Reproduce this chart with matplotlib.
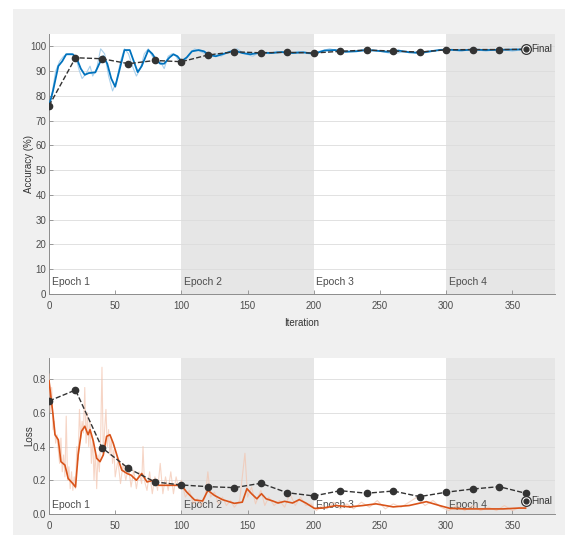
import matplotlib.pyplot as plt
import matplotlib.patches as mpatches
import numpy as np

# ---- data ----
acc_smooth_it = [0, 3, 7, 10, 13, 18, 21, 24, 27, 30, 35, 38, 41, 44, 47, 50, 53, 57, 61, 64, 67, 70,
                 75, 78, 81, 84, 87, 91, 94, 97, 100, 104, 108, 113, 117, 121, 126, 132, 140, 146, 152,
                 160, 168, 176, 184, 192, 200, 208, 216, 224, 232, 240, 248, 256, 264, 272, 280, 288,
                 296, 304, 312, 320, 330, 340, 350, 360]
acc_smooth = [76, 82, 92, 94, 96.8, 96.8, 95, 91, 88.5, 89.2, 89.5, 93, 96, 93, 87, 83.7, 90, 98.5, 98.5,
              94, 89.6, 92, 98.5, 97, 94.5, 93, 93, 95.5, 96.8, 96, 94, 95.5, 98, 98.5, 98, 96.5, 96,
              97, 98.3, 97.3, 96.8, 97.5, 97.3, 97.7, 97.3, 97.6, 97, 98.3, 98.5, 97.8, 98, 98.5, 98.2,
              97.8, 98.3, 97.6, 97.4, 98, 98.6, 98.6, 98.4, 98.7, 98.5, 98.6, 98.7, 98.8]

acc_raw_it = [0, 2, 5, 8, 11, 14, 17, 20, 23, 25, 28, 31, 33, 36, 39, 42, 45, 48, 51, 54, 57, 60, 63, 66,
              69, 72, 75, 78, 81, 84, 87, 90, 93, 96, 99, 102, 106, 110, 114, 118, 122, 126, 130, 136,
              142, 148, 154, 160, 166, 172, 180, 188, 196, 204, 212, 220, 230, 240, 250, 260, 270, 280,
              290, 300, 310, 320, 330, 340, 350, 360]
acc_raw = [76, 80, 90, 94, 96, 97, 97, 96, 90, 87, 89, 92, 88, 91, 99, 97, 88, 82, 86, 94, 99, 97, 92, 88,
           91, 97, 99, 96, 93, 94, 91, 96, 97, 96, 93, 94, 97, 99, 98, 97, 96, 97, 96, 98, 99, 97, 96,
           98, 97, 98, 97, 98, 97, 98, 99, 98, 98, 99, 98, 97, 98, 97, 98, 99, 98, 99, 98, 99, 98, 99]

val_it = [0, 20, 40, 60, 80, 100, 120, 140, 160, 180, 200, 220, 240, 260, 280, 300, 320, 340, 360]
val_acc = [76, 95.4, 95, 93, 94.3, 93.8, 96.5, 97.8, 97.4, 97.6, 97.3, 98, 98.5, 98.1, 97.7, 98.6,
           98.7, 98.7, 98.8]
final_acc = 98.8

loss_smooth_it = [0, 3, 4.5, 7, 9, 12, 14.5, 18, 20, 22, 24.5, 27, 29.5, 31, 33.5, 36, 38.5, 41, 43.5,
                  46, 48.5, 52, 55, 59, 62, 66, 70, 74, 79, 83, 89, 100, 104, 110, 116, 120, 125,
                  131, 140, 146, 149.5, 153, 157, 160.5, 164, 169, 173, 178, 184, 189, 194, 200.5,
                  207, 217, 227, 237, 247, 260, 272, 285, 295, 303, 315, 330, 343, 355, 360]
loss_smooth = [0.79, 0.59, 0.47, 0.44, 0.31, 0.29, 0.21, 0.18, 0.16, 0.35, 0.49, 0.52, 0.47, 0.50,
               0.43, 0.33, 0.31, 0.35, 0.46, 0.47, 0.42, 0.33, 0.26, 0.24, 0.23, 0.20, 0.24, 0.19,
               0.20, 0.17, 0.17, 0.17, 0.13, 0.083, 0.077, 0.14, 0.11, 0.085, 0.063, 0.07, 0.15,
               0.12, 0.09, 0.12, 0.09, 0.077, 0.065, 0.075, 0.065, 0.085, 0.065, 0.033, 0.035, 0.05,
               0.042, 0.05, 0.06, 0.042, 0.05, 0.073, 0.05, 0.033, 0.03, 0.03, 0.03, 0.035, 0.035]

loss_raw_it = [0, 1, 2, 3, 4, 5, 6, 7, 8, 9, 10, 11, 12, 13, 14, 15, 16, 17, 18, 19, 20, 21, 22, 23, 24,
               25, 26, 27, 28, 29, 30, 31, 32, 33, 34, 35, 36, 37, 38, 39, 40, 41, 42, 43, 44, 45, 46,
               47, 48, 49, 50, 52, 54, 56, 58, 60, 62, 64, 66, 68, 70, 71, 72, 74, 76, 78, 80, 82, 84,
               86, 88, 90, 92, 94, 96, 98, 100, 103, 106, 109, 112, 115, 118, 120, 122, 125, 128, 131,
               134, 137, 140, 144, 148, 150, 153, 156, 160, 163, 166, 170, 174, 178, 182, 186, 190, 194,
               198, 202, 206, 210, 215, 220, 225, 230, 236, 242, 248, 254, 260, 266, 272, 278, 284, 290,
               296, 302, 308, 314, 320, 326, 332, 338, 344, 350, 356, 360]
loss_raw = [0.83, 0.6, 0.75, 0.5, 0.55, 0.42, 0.47, 0.38, 0.30, 0.45, 0.25, 0.35, 0.22, 0.58, 0.20,
            0.28, 0.15, 0.25, 0.14, 0.22, 0.15, 0.40, 0.32, 0.62, 0.45, 0.55, 0.48, 0.75, 0.42, 0.6,
            0.4, 0.55, 0.3, 0.45, 0.2, 0.38, 0.15, 0.35, 0.25, 0.45, 0.87, 0.35, 0.5, 0.62, 0.4, 0.5,
            0.35, 0.45, 0.3, 0.38, 0.22, 0.32, 0.18, 0.3, 0.2, 0.28, 0.16, 0.26, 0.15, 0.25, 0.18,
            0.40, 0.2, 0.14, 0.25, 0.12, 0.22, 0.14, 0.3, 0.12, 0.22, 0.14, 0.25, 0.12, 0.22, 0.15,
            0.2, 0.1, 0.14, 0.06, 0.09, 0.05, 0.1, 0.25, 0.1, 0.13, 0.06, 0.1, 0.05, 0.08, 0.04,
            0.08, 0.36, 0.1, 0.16, 0.06, 0.14, 0.05, 0.1, 0.05, 0.08, 0.04, 0.12, 0.05, 0.1, 0.05,
            0.06, 0.02, 0.05, 0.03, 0.07, 0.03, 0.06, 0.03, 0.07, 0.04, 0.08, 0.03, 0.06, 0.04,
            0.07, 0.1, 0.05, 0.08, 0.04, 0.02, 0.05, 0.02, 0.05, 0.02, 0.04, 0.02, 0.05, 0.02, 0.04,
            0.03]

val_loss = [0.67, 0.735, 0.393, 0.27, 0.19, 0.172, 0.162, 0.156, 0.182, 0.126, 0.107, 0.138, 0.123,
            0.136, 0.103, 0.129, 0.148, 0.162, 0.123]
final_loss = 0.079

epoch_edges = [0, 100, 200, 300, 382]
epoch_labels = ['Epoch 1', 'Epoch 2', 'Epoch 3', 'Epoch 4']

plt.rcParams['font.family'] = ['Liberation Sans', 'DejaVu Sans']
plt.rcParams['font.size'] = 7

fig = plt.figure(figsize=(5.74, 5.35), dpi=100)
fig.patch.set_facecolor('white')
fig.patches.append(mpatches.Rectangle((0.0226, 0.0), 0.9617, 0.983, transform=fig.transFigure,
                                      facecolor='#f0f0f0', edgecolor='none', zorder=-10))

ax1 = fig.add_axes([0.0854, 0.4505, 0.881, 0.486])
ax2 = fig.add_axes([0.0854, 0.0393, 0.881, 0.2916])

blue = '#0072bd'
light_blue = '#a9d0ec'
orange = '#d95319'
light_orange = '#f3c4ae'
dark = '#333333'


def style_axes(ax, ymax, yticks, ylabel):
    ax.set_facecolor('white')
    for i in range(len(epoch_labels)):
        if i % 2 == 1:
            ax.axvspan(epoch_edges[i], epoch_edges[i + 1], color='#e6e6e6', lw=0, zorder=0)
    ax.set_xlim(0, epoch_edges[-1])
    ax.set_ylim(0, ymax)
    ax.set_xticks([0, 50, 100, 150, 200, 250, 300, 350])
    ax.set_yticks(yticks)
    ax.yaxis.grid(True, color='#dcdcdc', lw=0.6, zorder=1)
    ax.set_axisbelow(True)
    for s in ['top', 'right']:
        ax.spines[s].set_visible(False)
    for s in ['left', 'bottom']:
        ax.spines[s].set_color('#8c8c8c')
        ax.spines[s].set_linewidth(0.7)
    ax.tick_params(direction='in', length=3, width=0.6, color='#8c8c8c', labelcolor='#4d4d4d',
                   labelsize=7)
    ax.tick_params(axis='x', pad=5)
    ax.tick_params(axis='y', pad=2)
    ax.set_ylabel(ylabel, color='#333333', fontsize=7)
    ax.yaxis.set_label_coords(-0.03, 0.5)
    for i, lab in enumerate(epoch_labels):
        ax.text(epoch_edges[i] + 2, ymax * 0.025, lab, color='#4d4d4d', fontsize=7.5, va='bottom',
                ha='left', zorder=2)


style_axes(ax1, 105, [0, 10, 20, 30, 40, 50, 60, 70, 80, 90, 100], 'Accuracy (%)')
style_axes(ax2, 0.925, [0, 0.2, 0.4, 0.6, 0.8], 'Loss')
ax1.set_xlabel('Iteration', color='#333333', fontsize=7, labelpad=5)

ax1.plot(acc_raw_it, acc_raw, color=light_blue, lw=0.8, zorder=3)
ax1.plot(acc_smooth_it, acc_smooth, color=blue, lw=1.3, zorder=4, solid_joinstyle='round')
ax1.plot(val_it, val_acc, '--', color=dark, lw=1.0, marker='o', ms=4.5, mfc=dark, mec=dark, zorder=5)
ax1.plot([val_it[-1]], [final_acc], 'o', ms=7, mfc='white', mec=dark, mew=0.9, zorder=6)
ax1.plot([val_it[-1]], [final_acc], 'o', ms=3.5, color=dark, zorder=7)
ax1.text(val_it[-1] + 4, final_acc, 'Final', va='center', ha='left', fontsize=7, color='#333333')

ax2.plot(loss_raw_it, loss_raw, color=light_orange, lw=0.8, alpha=0.7, zorder=3)
ax2.plot(loss_smooth_it, loss_smooth, color=orange, lw=1.2, zorder=4, solid_joinstyle='round')
ax2.plot(val_it, val_loss, '--', color=dark, lw=1.0, marker='o', ms=4.5, mfc=dark, mec=dark, zorder=5)
ax2.plot([val_it[-1]], [final_loss], 'o', ms=7, mfc='white', mec=dark, mew=0.9, zorder=6)
ax2.plot([val_it[-1]], [final_loss], 'o', ms=3.5, color=dark, zorder=7)
ax2.text(val_it[-1] + 4, final_loss, 'Final', va='center', ha='left', fontsize=7, color='#333333')

fig.savefig('out.png', dpi=100)
